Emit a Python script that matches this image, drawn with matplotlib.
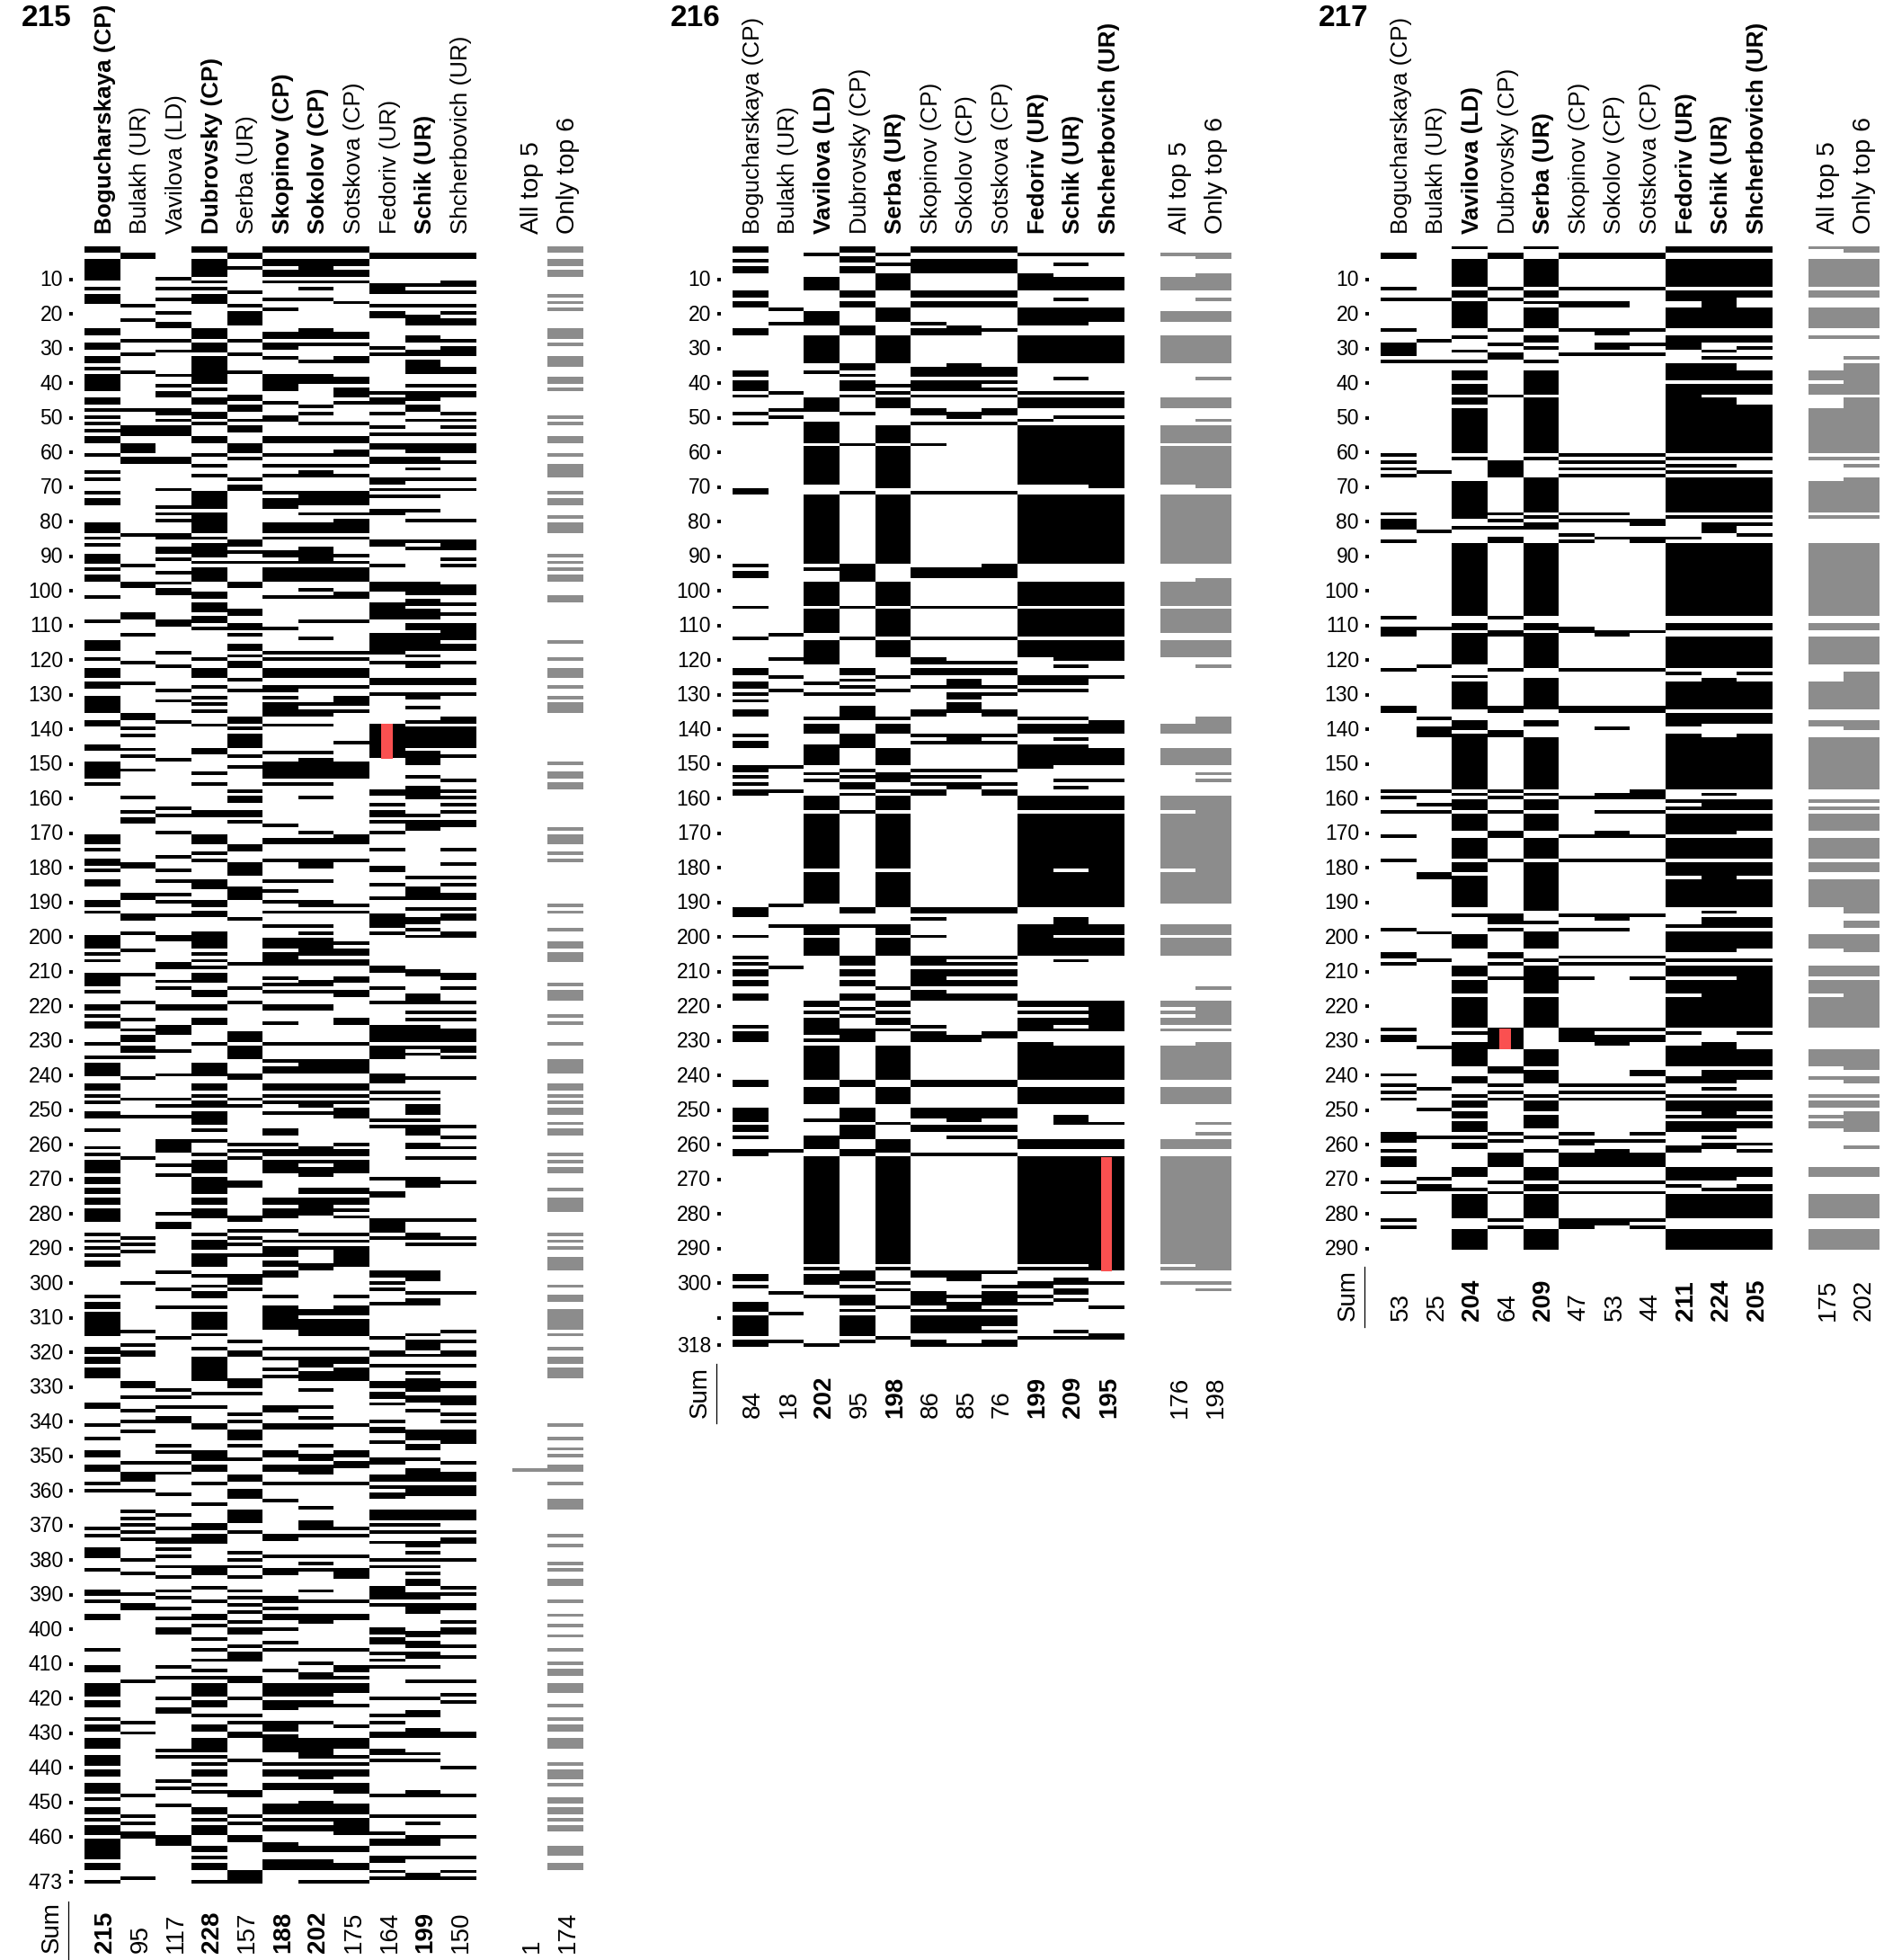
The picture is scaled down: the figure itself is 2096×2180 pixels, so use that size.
import numpy as np
import matplotlib
matplotlib.use('Agg')
import matplotlib.pyplot as plt
from matplotlib.colors import ListedColormap
from matplotlib.patches import Rectangle
from matplotlib.transforms import blended_transform_factory, ScaledTranslation

plt.rcParams['font.family'] = ['Liberation Sans', 'DejaVu Sans']

# names of the columns, same order in all panels
names = ['Bogucharskaya (CP)', 'Bulakh (UR)', 'Vavilova (LD)', 'Dubrovsky (CP)', 'Serba (UR)', 'Skopinov (CP)',
         'Sokolov (CP)', 'Sotskova (CP)', 'Fedoriv (UR)', 'Schik (UR)', 'Shcherbovich (UR)']
extra_names = ['All top 5', 'Only top 6']

# runs of marked rows per column
p215 = [
"1-2 5-10 13 15-17 25-26 29-30 33-34 36 38-42 45-46 48 50 52 54 56-57 61 66 68 72 74-75 81-83 85 87 90-92 94 96-97 102 109 115-117 120 123-125 127-128 131-135 138-139 145-146 150-154 156 171-173 175 178-179 181 184-185 190-191 193 200-203 205 207 211-214 216 220-221 223 225-226 231 235 237-240 243-244 246 248 251-252 256 261 263 265-268 270-271 273-274 276-277 279-282 286 288 290 292 294-295 304 306-307 309-315 319-320 322-323 325-327 335-336 341 345 349-350 353-354 358 360 371 373 377-379 383 389-390 392 396-397 406 411-412 416-419 421-422 426 428-429 432-434 437-439 441-442 445-447 449 452-453 455 457-459 461-466 468-469 473",
"3-4 18 22 28 32 37 48 53-55 58-60 62-63 84 93 98-99 107-108 113 121 127 136-137 140 142 146 148 152 160 164 166-167 179-180 188-189 194-195 199 204 211 219 224 227 229-230 232-233 235 241 247 252 264 287 289 291 300 314 318 320-321 329-330 333 337 340 343 352 355-357 360 366 368 370 372 374 380 384 390 393-394 415 427 430 448 454 456 459-460 472",
"10 13 16 20 23-24 28 31 38 41 43-44 48-49 51 53-55 62-63 71 76 78 80 84-85 88-89 91 95 98 100-101 109-110 118 122 129 132 138 149 163 165 170 177 181 184 188 190 194 200-201 208-209 213 215 220-221 226-228 233 240 247 249 252 259-262 266 269 280 283-284 297 302 307 316 331 333 336 339-340 347 349 352 355 361 367 371 374-375 377 379 382 385 389 391 394 397 400-401 411 414 420 423-424 435 437 444 446 451 460-462",
"1-2 5-9 11 13 15-17 25-27 29-31 33-40 42 45-46 49-50 52 56-57 61 64 67 72-76 78-83 85 87-90 92 94-97 101-102 104-106 108-109 111 120 123-125 128 131 133 135 139 146-147 153 156 164-165 171-173 176 178 184-186 190-191 193-194 199-203 205 207 209 211-213 216-217 220-221 224-225 231 237-240 243-244 246 248-249 251-254 256 259 263 265-268 270-274 276-277 279-281 286 288-290 292-295 298 301 303-304 307 309-313 315 319 322-328 332 336 341-342 349-351 353-354 358 364 370-371 373-375 382-384 388 392 396-397 399 403 406 409 412 414 416-419 421-422 425 428-429 432-435 437 439 441-442 445 447 452-453 455 457-459 463-464 466 468-469 473",
"3-4 7 14 18 20-23 28 32 37 44-45 47-48 51 53-54 58-60 62 68 70-71 86-87 89 92 98-99 106-107 110-111 113 116-117 119 121-122 126 129 137-138 140 142-145 148 151 158 160-161 164-165 167 174-175 179-182 186-189 195 208 215 219 228-230 232-235 240-241 247 249 260 262 264 271-272 281-282 285 287 289 292 298-300 302 317 320-321 328-330 332 338 340 343-345 347 351 356-357 360-362 366-369 372 378 380 382 385 389 391 393 395 398 400-401 405 407-409 414-415 420 425 427 430-431 438 447-448 454 456 460-461 470-473",
"1-2 5-6 8-9 11 16 19 26-27 29-30 33 38-42 46 50-51 56-57 61 64 67 72 74-76 81-83 85 89-90 92 94-97 102 111 118 120 123-125 128-129 131 133-136 139 147 150-154 156 168 172-173 178 184 187 190 193 197 201-203 205-208 212 214 216 220-221 225 231 236 238-239 243-244 246 248 251 256-257 260 262-263 265-268 276-277 279-281 285 288 290-292 294-295 297-298 304 307-313 319 322 325 327 336-337 341-342 349-350 353-354 358 363 373-374 379 383-384 391-392 394 396-397 400 404 406 412 416-419 421-423 427-429 431-435 439 441-442 445-446 451-453 455 457-458 462-464 467-469",
"1-2 5-9 11 13 16 25-27 29 34 38-40 47 49 52 56-57 61 64 66-67 72-75 78 81-83 85 88-92 94-97 100 102 109 114 118 120 123-125 128 133 135-136 139 147 149-154 156 160 170 172-173 178-180 184 190-191 193 197 199 201-205 207-208 213-214 216 220-221 231 236-239 243-244 246 248-249 251 261-263 265 267-269 273-274 276-280 286 288 290 295-296 308-309 311-315 319 322-324 326-328 331 336 339 341-342 347 350-351 353-355 358 365 369-371 373 379 381 383 389 392 396-398 406 410 413-414 416-419 421-422 427 432-437 439 441-443 445-446 450-453 455 457-458 463-464 467-469 473",
"1-2 5-6 8-9 11 17 26-27 29 33-34 39-40 42-44 46 52 56-57 60-61 64 67 72-75 78 80-83 85 90 92 94-97 101-102 109 118 120 123-125 128 131-133 135 144 150-154 171-173 178 191 193 202 204-205 207-208 212-213 216-217 224-225 231 236-239 243-244 246 248 250-252 260 262-263 265-268 273-274 276-277 279 281 286 288 290-295 304 307-309 311-315 319 322-323 325-328 341 349-350 352-353 358 371 373 379 383-385 392 396-397 406 411-412 414 416-418 422 428 432-434 437 439 441-442 445-447 451-453 455-459 463-464 468-469 473",
"3-4 12-14 18 20-21 30 32 43 45-46 49 53 55 58-59 62-63 68-69 71 73 77-78 86-87 93 98-100 104-108 113-118 121 126-127 130 139-148 158-159 162 164-165 167 170 175 180-181 185 189 194-197 199 209-210 215 219 226-230 232-235 240-242 245 247 253 255 270 274-275 282-285 287 297-298 300 302 306 316 320-321 324 329-330 332-333 335 340 342-343 346 351-352 356-357 359 361-362 366-368 370 372 375 380 382 388-391 393 400-401 403-404 407 409 411 420 425 427 430-431 435-436 438 448 454 459 461-462 466-467 470 472",
"3-4 12 14 18 21-23 27-28 31-32 34-37 41 43-45 47-48 51 55 58-60 62-63 65 68 71 73 77 80 86 88 98-101 103-104 106-108 110-111 113-115 116-117 119 121-122 126-127 130-131 134 138 140-145 147-150 154 157-160 165 167-169 183 186-189 192 195-196 198 200 210-211 217-219 222 224 226-230 232 234 241 245 247 249-251 253 255-257 260-261 264 270-272 282 286-287 289 297-299 303 305-306 315 317-319 321 324 326 328-331 333-334 337 343-345 347-348 351 354-357 359-361 366-368 370 372 375-376 378 380 382 384 386-387 390-391 393-395 401-402 404-405 407-408 411 415 420 424-425 429-431 436 438 447-448 454 456 460-462 466 471-472",
"3-4 11-12 14 18 20 22-23 28 30-32 36-37 41 43-44 49 51 53 55 58-60 63 68 71 80 86-88 91 93 99-101 104 107 110-114 116-117 121 126-127 130 137-138 140-145 148 155 158 160 162 164 167-168 175 179 183 185 188-189 192 194-195 199-200 211-212 215 219 222 224 227-230 232-233 235 241 255 258 261 264 271 282 287 289 303 314 317 320-321 324 329-330 333-335 338 340 343-345 346 352 355-357 359-361 366-368 372 374-375 380 388 390 393-394 398 400-401 405 408 415 419 421 430-431 440 448 454 460 466 470 472",
]
p215_extra = [
"354",
"1-2 5-6 8-9 15 17 19 25-27 29 33-35 39-40 42 50 52 56-57 61 64-67 72 74-75 79 81-83 90 92 94 96-97 102-103 115 120 123-125 128 131 133-135 150 153-154 156-157 169 171-173 176 178 191 193 198 202-203 205-207 214 216-218 223 225 231 236-239 243-244 246 248 250-251 254 256-257 263 265 267-268 273 276-279 286 288 290 293-296 301 304-305 308-313 315 319 322-323 325-327 341 345 348 350 353-354 358 363-365 373 376 381 383 386-387 392 396 399 402 406 410 412-413 416-418 422 426 428-429 432-434 439 441-443 445 449-450 452-453 455 457-458 463-465 468-469",
]

p216 = [
"1-2 5 7-8 14-15 17-18 25-26 37-38 40-42 44 49 52 71-72 93 95-96 105 114 123-124 127-128 130 132 135-136 142 144-145 151-152 154 156 158-159 192-194 200 206 208 210-211 213-214 217-218 226 228-230 242-243 250-252 253 255-256 258 262-263 298-299 301 306-308 310-315 317-318",
"19 23 43 48 50 113 120 125 129 151 158 191 197 209 262 303 309 317",
"3 10-13 20-23 27-34 37 45-48 52-57 59-69 73-92 94 98-104 106-112 115-121 127 130 137 139-141 145-150 153 155 160-163 165-180 182-190 197-199 201-205 219-220 222 224-228 230 232-241 244-248 253 258-261 264-294 296 298-300 304 318",
"1-2 4-5 7-8 14-15 17-18 24-26 35-36 38 40-42 44 49 58 72 93-97 105 114 123-124 126 128 130 134-137 142-145 152 154 156-157 159 164 192-193 197 206-208 210-211 213-214 217-218 221 223 227-230 242-243 250-253 255-258 262-263 297-299 301 304-306 308 310-315 317",
"3 6 9-13 19-22 27-34 41 43 45-47 53-57 59-70 73-92 98-104 106-113 115-119 125 129 137 139-141 146-150 153-155 158 160-163 165-180 182-191 197-199 201-205 215 219-220 222 224-225 227 232-241 244-248 254 259-262 264-294 296 300 302 307 316",
"1-2 5-8 14-15 17-18 23 25-26 36-38 40-42 44 48-49 52 58 72 94-96 105 114 120-121 123-124 128 135-136 142 144 152 154 156 158-159 192-193 195 200 206-208 210-214 216-218 226 228-230 242-243 250-252 255-256 263 297-298 303-306 308 310-314 317-318",
"1-2 5-8 14-15 17-18 24-26 35-38 40-42 44 49-50 52 72 94-96 105 114 121 123-124 126-128 130-131 133-135 142-144 152 154 156-157 192-193 206 208 210-211 213-214 217-218 229-230 242-243 250-253 255-256 258 263 297-299 304 306-308 310-314 318",
"1-2 5-8 14-15 17-18 25 36-38 40 42 44 48-49 52 72 93-96 105 114 121 123-124 128 130 135-136 142 144 152 156 158-159 192-193 206 208 210-211 213-214 217-218 228-229 242-243 250-252 255-256 258 263 297 301 303-306 308 310-312 314 317-318",
"3 9-13 19-23 27-34 43 45-47 51 53-69 73-92 98-104 106-113 115-119 125-127 129 137 139-141 145-151 160-163 165-191 197-205 219-220 222 224-227 231-241 244-248 259-261 264-294 296 300-301 304 306 316",
"3 6 10-13 16 19-23 27-34 39 43 45-47 50 53-69 73-92 98-104 106-113 115-120 122 125-127 129 137 139-141 143 145-150 155 157 160-163 165-180 182-191 195-199 201-205 207 219-220 222 224-225 227 232-241 244-248 252-254 259-261 264-294 296 299-300 302-303 305 314 316",
"3 10-13 19-22 27-34 43 45-47 50 53-70 73-92 98-104 106-113 115-120 125 138-141 146-150 155 160-163 165-191 197-199 201-205 219-227 232-241 244-248 254 259-261 264-296 300 307 315-316",
]
p216_extra = [
"3 10-13 20-22 27-34 45-47 53-57 59-69 73-92 98-104 106-112 115-119 139-141 146-150 160-163 165-180 182-190 197-199 201-205 219-220 222 224-225 227 232-241 244-248 259-261 264-294 296 300",
"3-4 9-13 16 20-22 27-34 39 45-47 51 53-57 59-70 73-92 97-104 106-112 115-119 122 137-141 146-150 153 155 160-190 197-199 201-205 215 219-225 227 231-241 244-248 254 257 259-261 264-296 300 302",
]

p217 = [
"3-4 13 16 25 29-32 34 61 63 65 67 78 80-82 86 108 111-113 123 134-135 158 160 164 171 178 198 205-206 208 227 229-230 240 243 245 247 257-259 262 264-266 271 274 282 284",
"16 28 34 66 83 111 122 137 140-142 158 162 164 182-183 199 207 232 244 250 258 270 272-273",
"1 5-12 14-15 17-24 27 31 34 37-39 41-43 45-46 48-60 62 69-79 82 87-107 110-111 113-121 125 127-134 138-139 140 142-157 159 161-163 165-169 172-177 179-181 183-191 194 200-203 209-211 213-216 218-226 228 231-237 241-242 246 248-249 251-252 254-256 258 260-261 267-269 273 275-281 285-290",
"3-4 13 16 25 29 32-33 44 63-67 78 80 82 85-86 108 112-113 123 134-135 141-142 158 160 164 170-171 178 194-196 198 205-206 208 212 227-232 238-239 243 245 247 257 259 263-266 271 274 282 284",
"1 5-12 14-15 17 19-24 27-28 30 34 37-43 45-60 62 68-77 79 81-82 87-107 110-111 113-122 126 127-134 138-139 143-157 159 161-163 165-169 172-177 179-192 196 199-203 207 209-216 218-226 233-237 239-242 246 248-250 252-255 258 262 267-270 272-273 275-281 285-290",
"3-4 13 17-18 25 32 61 63 65 67 78 80 84 86 111-112 123 134-135 160 171 178 194 198 206 208 212 227-230 243 245 247 257 259-260 263-266 271 274 282-284",
"3-4 13 17-18 25-26 29-30 32 61 63 65 67 78 80 85 112-113 123 134-135 140 159-160 164 170-171 178 194-195 198 206 208 227 229-231 243 245 247 259 262-266 271 274 282-283",
"3-4 13 25 29 32 61 63 65 67 80-81 85-86 112 123 134-135 158-160 164 171 178 194 206 208 212 227 229-230 239-240 243 245 247 257 259 263-266 271 274 282 284",
"1-2 5-12 14-16 19-24 27-30 35-39 41-60 62 64 66 68-77 79 85 87-107 110-111 114-122 124 127-134 136-139 142-157 161 163 165-170 172-177 179-182 184-191 197 199-204 207 209-211 213-216 218-226 228 232-237 241-242 246 248-250 252 254-256 261-262 267-270 272 275-281 285-290",
"1-2 5-12 14-24 27-28 31 33 35-39 41-43 45-60 62 64 66 68-77 79 81-83 87-107 110-111 114-122 126 127-134 136-138 143-157 159 161-163 165-170 172-177 179-191 193 195-197 199-204 207 209-211 213-226 231-237 239-242 244 246 248-252 254-256 258 260-261 267-270 273 275-281 285-290",
"1-2 5-12 14-15 19-24 27-28 30 33 37-39 41-43 47-60 62 66 68-77 79 81 84 87-107 110-111 114-122 124 127-134 136-138 142-157 161-163 165-169 172-177 179-182 184-191 195-197 199-203 207 209-226 228 233-237 239-241 246 248-250 252 254-255 260 262 267-269 272-273 275-281 285-290",
]
p217_extra = [
"1 5-12 14-15 19-24 27 37-39 41-43 48-60 62 69-77 79 87-107 110-111 114-121 127-134 138-139 143-157 161 163 165-169 172-177 179-181 184-191 200-203 209-211 213-216 218-226 233-237 241 246 248-249 252 254-255 267-269 275-281 285-290",
"1-2 5-12 14-15 19-24 27 33 35-43 45-60 62 64 68-77 79 87-107 110-111 114-121 124-134 138-140 143-157 161 163 165-169 172-177 179-181 184-193 196-197 200-204 209-211 213-226 233-238 241-242 246 248-249 251-256 261 267-269 275-281 285-290",
]

sum215 = [215, 95, 117, 228, 157, 188, 202, 175, 164, 199, 150]
sum216 = [84, 18, 202, 95, 198, 86, 85, 76, 199, 209, 195]
sum217 = [53, 25, 204, 64, 209, 47, 53, 44, 211, 224, 205]
extra215 = [1, 174]
extra216 = [176, 198]
extra217 = [175, 202]

bold215 = [0, 3, 5, 6, 9]
bold216 = [2, 4, 8, 9, 10]
bold217 = [2, 4, 8, 9, 10]

ticks215 = list(range(10, 470, 10)) + [470, 473]
labels215 = [str(t) for t in range(10, 470, 10)] + ['', '473']
ticks216 = list(range(10, 310, 10)) + [310, 318]
labels216 = [str(t) for t in range(10, 310, 10)] + ['', '318']
ticks217 = list(range(10, 300, 10))
labels217 = [str(t) for t in ticks217]

# panel, rows, red column, red rows
red215 = (8, 139, 148)
red216 = (10, 264, 296)
red217 = (3, 227, 232)

W, H = 2096, 2180
ROW = 3.85
COL = 39.6
TOP = 274


def to_matrix(cols, extra, n):
    m = np.zeros((n, 14))
    for i, s in enumerate(cols):
        for run in s.split():
            a, _, b = run.partition('-')
            m[int(a) - 1:int(b or a), i] = 1
    for i, s in enumerate(extra):
        for run in s.split():
            a, _, b = run.partition('-')
            m[int(a) - 1:int(b or a), 12 + i] = 2
    return m


def panel(title, x0, cols, extra, n, sums, esums, bold, ticks, labels, red, sum_y, line_y, title_x):
    w = 14 * COL
    h = n * ROW
    ax = fig.add_axes([x0 / W, 1 - (TOP + h) / H, w / W, h / H])
    cmap = ListedColormap(['white', 'black', '#8c8c8c'])
    ax.imshow(to_matrix(cols, extra, n), cmap=cmap, vmin=0, vmax=2, aspect='auto', interpolation='nearest',
              extent=(-0.5, 13.5, n + 0.5, 0.5))
    ax.add_patch(Rectangle((red[0] - 0.155, red[1] - 0.5), 0.31, red[2] - red[1] + 1, color='#fa5050', lw=0))

    for s in ax.spines.values():
        s.set_visible(False)
    ax.spines['left'].set_position(('outward', 9.5))
    ax.set_xticks([])
    ax.set_yticks(ticks)
    ax.set_yticklabels(labels, fontsize=16.5)
    ax.tick_params(axis='y', length=2.8, width=2.8, pad=5)
    up = ScaledTranslation(0, 1.5 / 100, fig.dpi_scale_trans)
    for lbl in ax.get_yticklabels():
        lbl.set_transform(lbl.get_transform() + up)

    tr = blended_transform_factory(ax.transData + ScaledTranslation(3 / 100, 0, fig.dpi_scale_trans), fig.transFigure)
    ypos = 1 - (TOP - 14) / H
    ybot = 1 - sum_y / H
    for i, name in enumerate(names):
        fw = 'bold' if i in bold else 'normal'
        ax.text(i, ypos, name, transform=tr, rotation=90, ha='center', va='bottom', fontsize=18.8, fontweight=fw)
        ax.text(i, ybot, str(sums[i]), transform=tr, rotation=90, ha='center', va='bottom', fontsize=20,
                fontweight=fw, clip_on=False)
    for i, name in enumerate(extra_names):
        ax.text(12 + i, ypos, name, transform=tr, rotation=90, ha='center', va='bottom', fontsize=20.5)
        ax.text(12 + i, ybot, str(esums[i]), transform=tr, rotation=90, ha='center', va='bottom', fontsize=20)

    fig.text((x0 - 36) / W, ybot, 'Sum', rotation=90, ha='center', va='bottom', fontsize=20)
    fig.add_artist(plt.Line2D([(x0 - 18) / W] * 2, [1 - line_y[0] / H, 1 - line_y[1] / H], color='black', lw=0.9))
    fig.text(title_x / W, 1 - 29 / H, title, ha='left', va='baseline', fontsize=24, fontweight='bold')


fig = plt.figure(figsize=(W / 100, H / 100), dpi=100)
panel('215', 94, p215, p215_extra, 473, sum215, extra215, bold215, ticks215, labels215, red215, 2172, (2115, 2180), 24)
panel('216', 815, p216, p216_extra, 318, sum216, extra216, bold216, ticks216, labels216, red216, 1577, (1517, 1583), 746)
panel('217', 1536, p217, p217_extra, 290, sum217, extra217, bold217, ticks217, labels217, red217, 1469, (1409, 1476), 1467)
fig.savefig('out.png', dpi=100)
